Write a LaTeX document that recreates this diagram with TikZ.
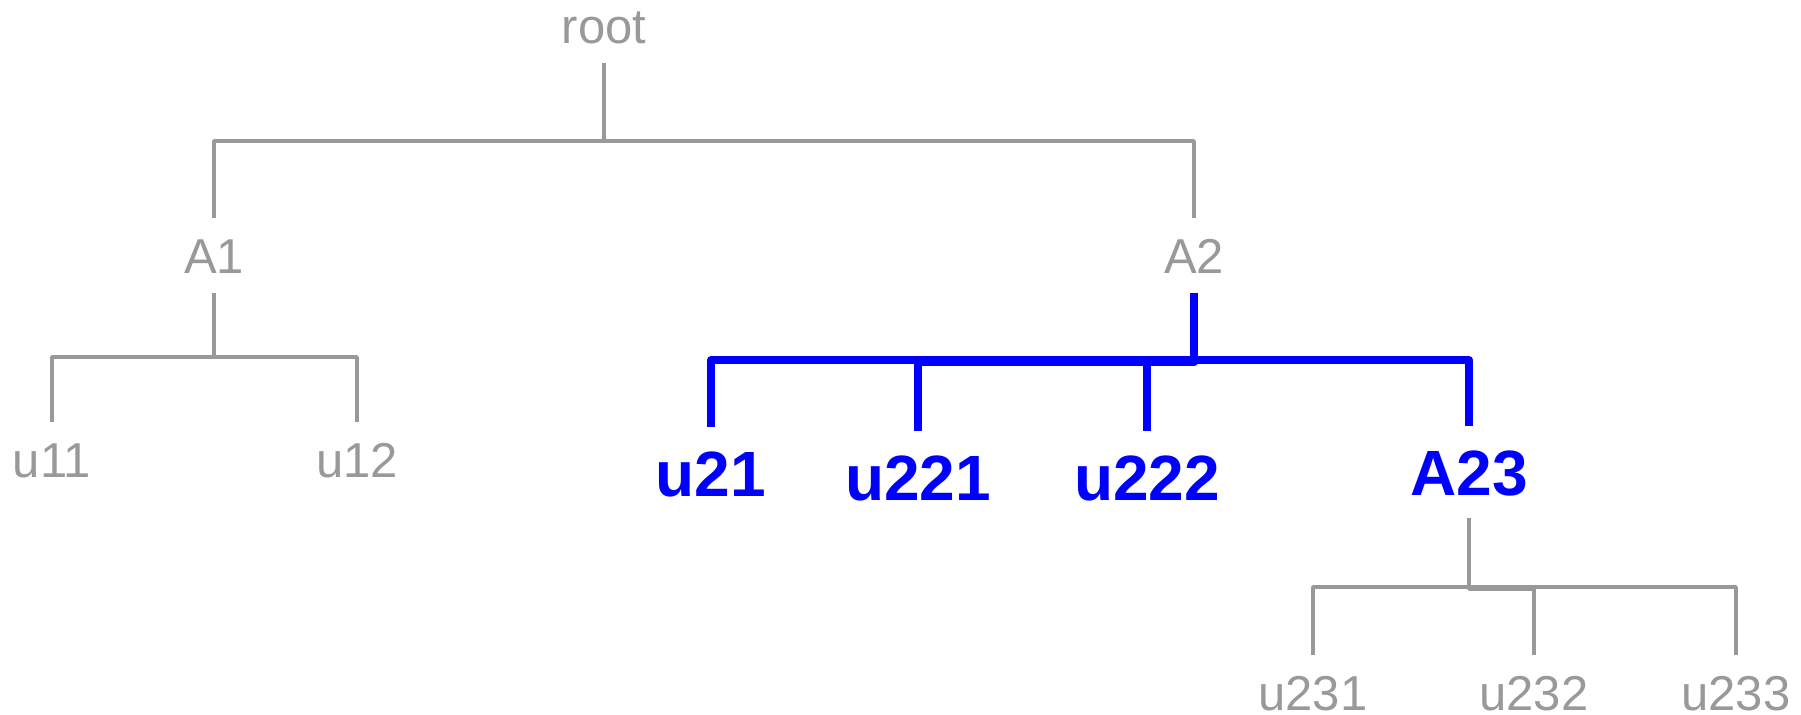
\documentclass[tikz,border=0pt]{standalone}
\usepackage{fontspec}
\setmainfont{Liberation Sans}
\definecolor{treegray}{HTML}{999999}
\definecolor{treeblue}{HTML}{0000FF}
\begin{document}
\begin{tikzpicture}[x=0.5pt,y=-0.5pt,
  graylbl/.style={anchor=base,inner xsep=0pt,inner ysep=9.75pt,text height=17.5pt,text depth=0pt,
    text=treegray,font=\fontsize{24.5pt}{24.5pt}\selectfont},
  bluelbl/.style={anchor=base,inner xsep=0pt,inner ysep=11.5pt,text height=23pt,text depth=0pt,
    text=treeblue,font=\fontsize{32pt}{32pt}\selectfont\bfseries},
  grayedge/.style={draw=treegray,line width=1.75pt,line join=round},
  blueedge/.style={draw=treeblue,line width=4pt,line join=round}]
\useasboundingbox (0,0) rectangle (1801,714);
% nodes
\node[graylbl] (root) at (604,43) {root};
\node[graylbl] (A1) at (214,273) {A1};
\node[graylbl] (A2) at (1194,273) {A2};
\node[graylbl] (u11) at (52,477) {u11};
\node[graylbl] (u12) at (357,477) {u12};
\node[bluelbl] (u21) at (711,496) {u21};
\node[bluelbl] (u221) at (918,500) {u221};
\node[bluelbl] (u222) at (1147,500) {u222};
\node[bluelbl] (A23) at (1469,495) {A23};
\node[graylbl] (u231) at (1313,710) {u231};
\node[graylbl] (u232) at (1534,710) {u232};
\node[graylbl] (u233) at (1736,710) {u233};
% bus levels
\coordinate (b0) at (0,141);
\coordinate (b1) at (0,357);
\coordinate (b2) at (0,360);
\coordinate (b2m) at (0,362);
\coordinate (b3) at (0,587);
\coordinate (b3m) at (0,589);
% gray connectors
\draw[grayedge] (root.south) -- (root.south |- b0) -| (A1.north);
\draw[grayedge] (root.south) -- (root.south |- b0) -| (A2.north);
\draw[grayedge] (A1.south) -- (A1.south |- b1) -| (u11.north);
\draw[grayedge] (A1.south) -- (A1.south |- b1) -| (u12.north);
\draw[grayedge] (A23.south) -- (A23.south |- b3) -| (u231.north);
\draw[grayedge] (A23.south) -- (A23.south |- b3m) -| (u232.north);
\draw[grayedge] (A23.south) -- (A23.south |- b3) -| (u233.north);
% blue connectors
\draw[blueedge] (A2.south) -- (A2.south |- b2) -| (u21.north);
\draw[blueedge] (A2.south) -- (A2.south |- b2m) -| (u221.north);
\draw[blueedge] (A2.south) -- (A2.south |- b2m) -| (u222.north);
\draw[blueedge] (A2.south) -- (A2.south |- b2) -| (A23.north);
\end{tikzpicture}
\end{document}
